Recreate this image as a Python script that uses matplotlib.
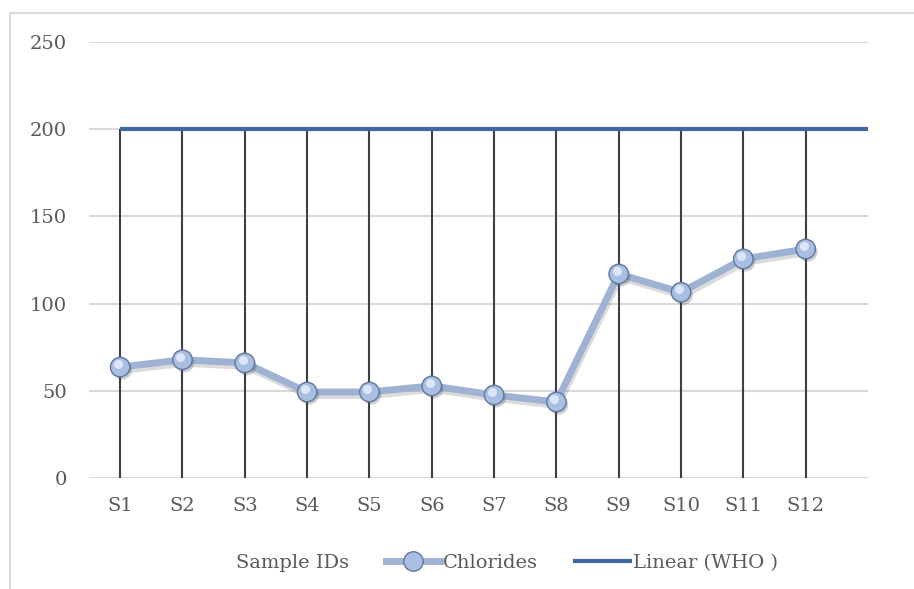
import matplotlib
matplotlib.use('Agg')
import matplotlib.pyplot as plt
import matplotlib.patheffects as pe
import matplotlib.transforms as mtransforms
from matplotlib.lines import Line2D
from matplotlib.patches import Rectangle

# Data
samples = ['S1', 'S2', 'S3', 'S4', 'S5', 'S6', 'S7', 'S8', 'S9', 'S10', 'S11', 'S12']
chlorides = [63.6, 67.8, 66.0, 49.3, 49.3, 52.8, 47.6, 43.6, 117.0, 106.5, 125.6, 131.3]
who_limit = 200

plt.rcParams['font.family'] = ['DejaVu Serif']
text_col = '#595959'

fig = plt.figure(figsize=(9.14, 5.89), dpi=100)
ax = fig.add_axes([89/914, 1 - 478/589, (868 - 89)/914, (478 - 42)/589])

# outer chart border (only left/top visible in the crop)
fig.patches.append(Rectangle((10/914, -0.1), 1.2, 1.1 - 13/589,
                             transform=fig.transFigure, fill=False,
                             edgecolor='#D9D9D9', linewidth=1.5))

x = list(range(len(samples)))

# drop lines from the WHO line down to the axis
ax.vlines(x, 0, who_limit, colors='#3F3F3F', linewidth=1.5, zorder=2)

# WHO line, extends to one category past S12
ax.plot([0, len(samples)], [who_limit, who_limit], color='#41689E',
        linewidth=3, solid_capstyle='butt', zorder=3)

# chlorides line with soft shadow
ax.plot(x, chlorides, color='#A0B2D4', linewidth=5, zorder=4,
        solid_joinstyle='round',
        path_effects=[pe.SimpleLineShadow(offset=(1, -2.5), shadow_color='#888888', alpha=0.3),
                      pe.Normal()])
ax.plot(x, chlorides, linestyle='none', marker='o', markersize=14,
        markerfacecolor='#A9BEE3', markeredgecolor='#62779C', markeredgewidth=1.0,
        zorder=5,
        path_effects=[pe.SimplePatchShadow(offset=(1.5, -2), alpha=0.25), pe.Normal()])
hl = mtransforms.offset_copy(ax.transData, fig=fig, x=-1.5, y=2, units='points')
ax.plot(x, chlorides, linestyle='none', marker='o', markersize=6.5,
        markerfacecolor='#E6EEFA', markeredgecolor='none', alpha=0.85,
        transform=hl, zorder=6)

ax.set_xlim(-0.5, len(samples))
ax.set_ylim(0, 250)
ax.set_yticks([0, 50, 100, 150, 200, 250])
ax.set_xticks(x)
ax.set_xticklabels(samples)
ax.yaxis.grid(True, color='#D9D9D9', linewidth=1.5)
ax.set_axisbelow(True)
for s in ax.spines.values():
    s.set_visible(False)
ax.tick_params(length=0, labelsize=14, labelcolor=text_col)
ax.tick_params(axis='x', pad=14)
ax.tick_params(axis='y', pad=16)

handles = [Line2D([], [], color='none'),
           Line2D([], [], color='#A0B2D4', linewidth=5, marker='o', markersize=14,
                  markerfacecolor='#A9BEE3', markeredgecolor='#62779C'),
           Line2D([], [], color='#41689E', linewidth=3)]
labels = ['Sample IDs', 'Chlorides', 'Linear (WHO )']
leg = fig.legend(handles, labels, loc='center', bbox_to_anchor=(478/914, 1 - 563/589),
                 ncol=3, frameon=False, fontsize=14, handlelength=2.8,
                 handletextpad=0.15, columnspacing=1.9, labelcolor=text_col)

fig.savefig('out.png', dpi=100)
